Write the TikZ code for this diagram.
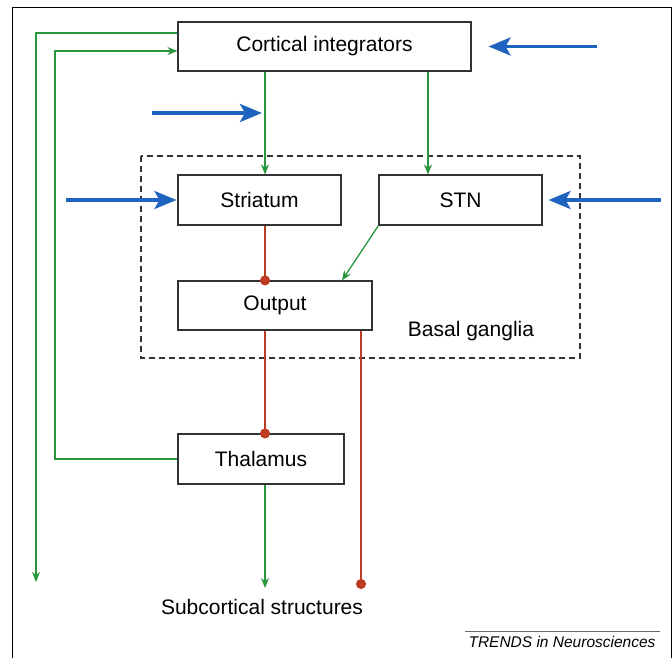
\documentclass[tikz,border=0pt]{standalone}
\usepackage{fontspec}
\setmainfont{Liberation Sans}
\usetikzlibrary{arrows.meta}
\definecolor{nsgreen}{RGB}{40,150,60}
\definecolor{nsred}{RGB}{190,60,35}
\definecolor{nsblue}{RGB}{30,100,190}
\begin{document}
\begin{tikzpicture}[x=1pt, y=-1pt,
	area/.style={draw=black!80, line width=1.1pt, inner sep=0pt, font=\fontsize{21}{25}\selectfont},
	excite/.style={nsgreen, line width=1.3pt, -{Stealth[length=10pt, width=8pt]}},
	inhib/.style={nsred, line width=1.5pt, -{Circle[length=10pt]}, shorten >=-5pt},
	input/.style={nsblue, line width=3.5pt, -{Stealth[length=22pt, width=18pt, inset=5pt]}},
	label/.style={inner sep=0pt, font=\fontsize{21}{25}\selectfont}]
	\useasboundingbox (0,0) rectangle (672,658);
	%frame
	\draw[black, line width=1pt] (12,658) -- (12,8) -- (671,8) -- (671,658);
	
	%basal ganglia
	\draw[black!80, line width=1.1pt, dash pattern=on 6pt off 4pt] (141,156) rectangle (580,358);
	\node[label] (bg) at (471,331){Basal ganglia};
	
	%areas
	\node[area, minimum width=293, minimum height=49] (cortex) at (324.5,46.5){Cortical integrators};
	\node[area, minimum width=163, minimum height=50] (striatum) at (259.5,200){Striatum};
	\node[area, minimum width=163, minimum height=50] (stn) at (460.5,200){STN};
	\node[area, minimum width=194, minimum height=49] (output) at (275,305.5){Output};
	\node[area, minimum width=166, minimum height=50] (thalamus) at (261,459){Thalamus};
	\node[label] (subcortex) at (262,607){Subcortical structures};
	
	\coordinate (col) at (265,0);
	\coordinate (stncol) at (428,0);
	\coordinate (diag) at (342,0);
	\coordinate (outcol) at (361,0);
	\coordinate (outer) at (36,582);
	\coordinate (loop) at (55,51);
	\coordinate (subtip) at (265,588);
	\coordinate (outend) at (361,584);
	
	%green pathways
	\draw[excite] (cortex.south -| col) -- (striatum.north -| col);
	\draw[excite] (cortex.south -| stncol) -- (stn.north -| stncol);
	\draw[excite] (stn.south west) -- (output.north -| diag);
	\draw[excite] (thalamus.south -| col) -- (subtip);
	\draw[excite] ([yshift=13.5pt]cortex.west) -| (outer);
	\draw[excite] (thalamus.west) -| (loop) -- ([yshift=-4.5pt]cortex.west);
	
	%red pathways
	\draw[inhib] (striatum.south -| col) -- (output.north -| col);
	\draw[inhib] (output.south -| col) -- (thalamus.north -| col);
	\draw[inhib] (output.south -| outcol) -- (outend);
	
	%blue inputs
	\coordinate (in1) at (597,46.5);
	\coordinate (in2a) at (152,113);
	\coordinate (in2b) at (262,113);
	\coordinate (in3) at (66,200);
	\coordinate (in4) at (661,200);
	\draw[input] (in1) -- ([xshift=17pt]cortex.east);
	\draw[input] (in2a) -- (in2b);
	\draw[input] (in3) -- ([xshift=-1pt]striatum.west);
	\draw[input] (in4) -- ([xshift=6pt]stn.east);
	
	%source
	\draw[black!60, line width=0.8pt] (465,631) -- (660,631);
	\node[inner sep=0pt, font=\fontsize{15.5}{18}\selectfont\itshape] (source) at (562,642){TRENDS in Neurosciences};
\end{tikzpicture}
\end{document}
